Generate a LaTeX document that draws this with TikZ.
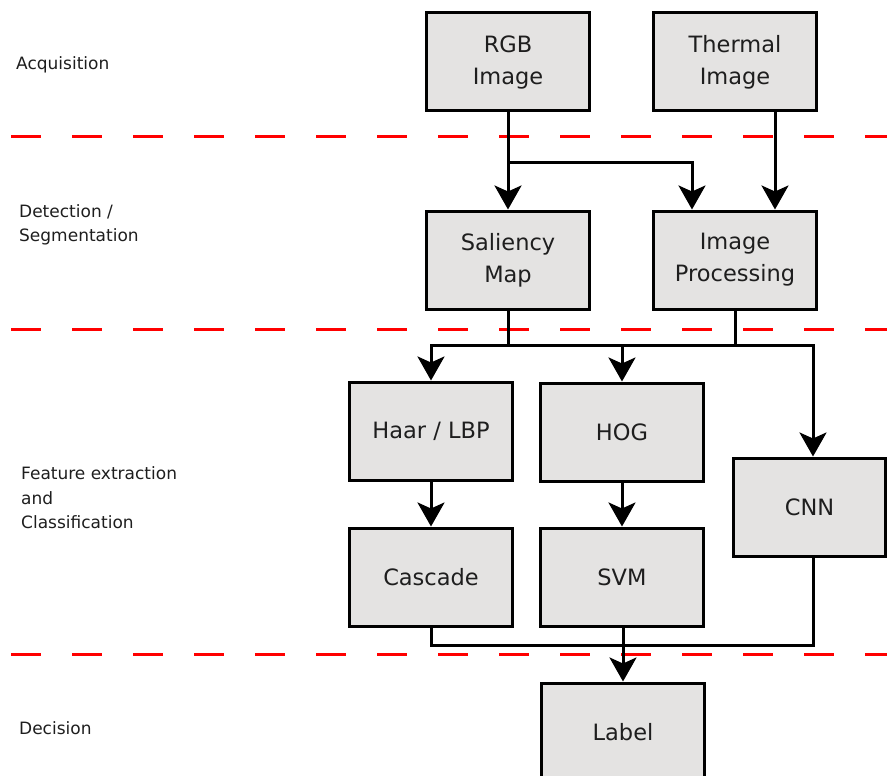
\documentclass[tikz,border=0pt]{standalone}
\usepackage{fontspec}
\setmainfont{DejaVu Sans}
\usetikzlibrary{arrows.meta}
\definecolor{boxfill}{HTML}{E4E3E2}
\definecolor{txt}{HTML}{1E1E1E}
\tikzset{
  stagebox/.style={draw=black, fill=boxfill, line width=3pt, minimum width=163pt, minimum height=98pt,
    align=center, text=txt, font=\fontsize{22.5pt}{32pt}\selectfont, inner sep=0pt},
  sidelabel/.style={anchor=west, align=left, text=txt, font=\fontsize{17pt}{24.5pt}\selectfont, inner sep=0pt},
  conn/.style={line width=3pt, draw=black},
  arr/.style={conn, -{Stealth[length=24pt,width=27pt,inset=6pt]}},
  sep/.style={draw=red, line width=3pt, dash pattern=on 30pt off 31pt}
}
\begin{document}
\begin{tikzpicture}[x=1pt,y=-1pt]
\useasboundingbox (0,0) rectangle (887,776);
% separators
\draw[sep] (11,136) -- (890,136);
\draw[sep] (11,329) -- (890,329);
\draw[sep] (11,654) -- (890,654);
% side labels
\node[sidelabel] (l1) at (16,65) {Acquisition};
\node[sidelabel] (l2) at (19,225) {Detection /\\Segmentation};
\node[sidelabel] (l3) at (21,498) {Feature extraction\\and\\Classification};
\node[sidelabel] (l4) at (19,728) {Decision};
% boxes
\node[stagebox] (rgb) at (508,62) {RGB\\Image};
\node[stagebox] (thm) at (735,62) {Thermal\\Image};
\node[stagebox] (sal) at (508,260) {Saliency\\Map};
\node[stagebox] (imp) at (735,260) {Image\\Processing};
\node[stagebox] (haar) at (431,431) {Haar / LBP};
\node[stagebox] (hog) at (622,432) {HOG};
\node[stagebox, minimum width=152pt] (cnn) at (809.5,507) {CNN};
\node[stagebox] (cas) at (431,577) {Cascade};
\node[stagebox] (svm) at (622,577) {SVM};
\node[stagebox] (lab) at (623,732) {Label};
% connectors
\coordinate (b1) at (508,162);
\draw[arr] (rgb.south) -- (sal.north);
\draw[arr] (b1) -| ([xshift=-43pt]imp.north);
\draw[arr] ([xshift=40pt]thm.south) -- ([xshift=40pt]imp.north);
\coordinate (m) at (508,345);
\coordinate (mc) at (813,345);
\draw[conn] (sal.south) -- (m);
\draw[conn] (imp.south) -- (imp.south |- m);
\draw[arr] (m) -| (haar.north);
\draw[arr] (hog.north |- m) -- (hog.north);
\draw[arr] (m) -| (mc) -- (mc |- cnn.north);
\draw[arr] (haar.south) -- (cas.north);
\draw[arr] (hog.south) -- (svm.north);
\draw[conn] (cas.south) -- ++(0,18) -| (mc |- cnn.south);
\draw[arr] (svm.south) -- (svm.south -| lab.north) -- (lab.north);
\end{tikzpicture}
\end{document}
